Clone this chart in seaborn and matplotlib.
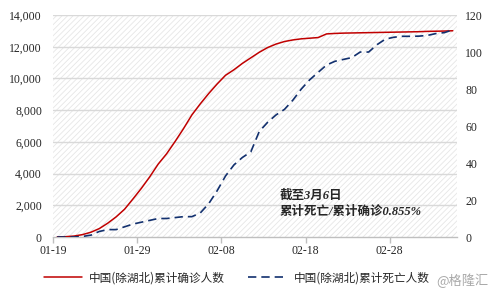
import matplotlib
matplotlib.use("Agg")
import matplotlib.pyplot as plt
import seaborn as sns
import pandas as pd
import numpy as np

start_date = "2020-01-19"
confirmed = [5, 20, 60, 150, 300, 530, 870, 1270, 1750, 2400,
             3070, 3800, 4600, 5250, 6020, 6830, 7700, 8400, 9050, 9650,
             10200, 10550, 10950, 11300, 11650, 11950, 12170, 12330, 12430, 12500,
             12540, 12580, 12810, 12840, 12860, 12870, 12880, 12890, 12900, 12910,
             12920, 12930, 12940, 12950, 12970, 12980, 12990, 13010]
deaths = [0, 0, 0, 0.3, 1, 3, 4, 4, 5.5, 7,
          8, 9, 10, 10, 10.5, 11, 11, 13, 18, 25,
          33, 39, 43, 46, 57, 62, 66, 69, 74, 80,
          85, 89, 93, 95, 96, 97, 100, 100, 104, 107,
          108, 108.5, 108.5, 108.6, 109, 110, 110.5, 112]
tick_labels = ["01-19", "01-29", "02-08", "02-18", "02-28"]
label_confirmed = "中国(除湖北)累计确诊人数"
label_deaths = "中国(除湖北)累计死亡人数"
note = "截至3月6日\n累计死亡/累计确诊0.855%"
watermark = "@格隆汇"

sns.set_theme(style="white")
plt.rcParams['font.family'] = ['Liberation Serif', 'Noto Sans CJK SC', 'DejaVu Sans']
plt.rcParams['hatch.color'] = '#e6e6e6'
plt.rcParams['hatch.linewidth'] = 0.6

df = pd.DataFrame({"day": np.arange(len(confirmed)) + 0.5,
                   "confirmed": confirmed, "deaths": deaths})

fig = plt.figure(figsize=(4.93, 2.95), dpi=100)
ax = fig.add_axes([0.1075, 0.1966, 0.8195, 0.7524])
ax.set_facecolor('white')
ax.patch.set_hatch('//////')
ax.patch.set_edgecolor('#e6e6e6')
ax.patch.set_linewidth(0)

for y in range(2000, 14001, 2000):
    ax.axhline(y, color='#d9d9d9', lw=1.0, zorder=1)

sns.lineplot(data=df, x="day", y="confirmed", ax=ax, color='#C00000', lw=1.1,
             label=label_confirmed, legend=False, zorder=3)
ax2 = ax.twinx()
sns.lineplot(data=df, x="day", y="deaths", ax=ax2, color='#12306e', lw=1.2,
             label=label_deaths, legend=False, zorder=3)
ax2.lines[0].set_dashes([5, 3])

n = len(confirmed)
ax.set_xlim(0, n)
ax.set_ylim(0, 14000)
ax2.set_ylim(0, 120)
ax.set_yticks(range(0, 14001, 2000))
ax.set_yticklabels([f"{v:,}" for v in range(0, 14001, 2000)])
ax2.set_yticks(range(0, 121, 20))
ax.set_xticks([0, 10, 20, 30, 40])
ax.set_xticklabels(tick_labels)
ax.set_xlabel("")
ax.set_ylabel("")
ax2.set_ylabel("")

for a in (ax, ax2):
    for s in a.spines.values():
        s.set_visible(False)
ax.spines['bottom'].set_visible(True)
ax.spines['bottom'].set_color('#bfbfbf')
ax.spines['bottom'].set_linewidth(1.0)
ax.tick_params(axis='x', length=4, color='#bfbfbf', width=1, labelsize=8.5, pad=2, bottom=True)
ax.tick_params(axis='y', length=0, labelsize=8.5, pad=8, left=False)
ax2.tick_params(axis='y', length=0, labelsize=8.5, pad=6, right=False)
ax.xaxis.set_ticks_position('bottom')

ax2.text(0.561, 0.215, note, transform=ax.transAxes, fontsize=9,
         style='italic', fontweight='semibold', va='top', ha='left',
         family=['Liberation Serif', 'Noto Sans CJK SC'], linespacing=1.45)

h1, l1 = ax.get_legend_handles_labels()
h2, l2 = ax2.get_legend_handles_labels()
fig.legend(h1 + h2, l1 + l2, loc='center', bbox_to_anchor=(0.48, 0.058), ncol=2,
           frameon=False, handlelength=3.3, columnspacing=2.0, handletextpad=0.6,
           prop={'family': ['Noto Sans CJK SC'], 'size': 8.4})

fig.text(0.99, 0.05, watermark, ha='right', va='center', fontsize=9.5,
         color='#9a9a9a', alpha=0.85, family=['Noto Sans CJK SC'])

fig.savefig("out.png", dpi=100)
